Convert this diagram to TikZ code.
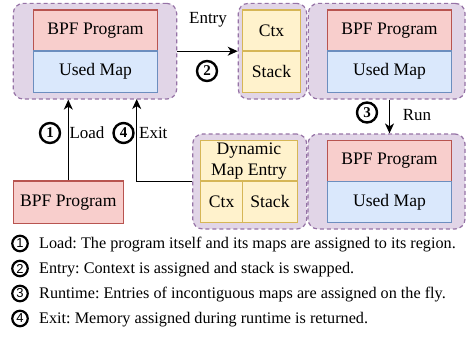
\documentclass[tikz,border=0pt]{standalone}
\usepackage{fontspec}
\setmainfont{Liberation Serif}
\newfontfamily\legsans{Liberation Sans}
\usetikzlibrary{arrows.meta}
\frenchspacing
\definecolor{regfill}{HTML}{E1D5E7}
\definecolor{regdraw}{HTML}{9673A6}
\definecolor{pinkfill}{HTML}{F8CECC}
\definecolor{pinkdraw}{HTML}{B85450}
\definecolor{bluefill}{HTML}{DAE8FC}
\definecolor{bluedraw}{HTML}{6C8EBF}
\definecolor{yelfill}{HTML}{FFF2CC}
\definecolor{yeldraw}{HTML}{D6B656}
\tikzset{
  region/.style={draw=regdraw, fill=regfill, line width=1.2pt, dash pattern=on 4pt off 3pt, rounded corners=10pt, inner sep=0pt},
  cell/.style={line width=1.1pt, inner sep=0pt, font=\fontsize{17.6}{20}\selectfont, align=center},
  pinkcell/.style={cell, draw=pinkdraw, fill=pinkfill},
  bluecell/.style={cell, draw=bluedraw, fill=bluefill},
  yelcell/.style={cell, draw=yeldraw, fill=yelfill},
  lbl/.style={font=\fontsize{17}{20}\selectfont, inner sep=0pt},
  numc/.style={circle, draw, line width=2.4pt, minimum size=20pt, inner sep=0pt, font=\fontsize{15}{15}\selectfont\bfseries},
  legc/.style={circle, draw, line width=2.2pt, minimum size=15.5pt, inner sep=0pt, font=\legsans\fontsize{13}{13}\selectfont},
  legt/.style={anchor=base west, inner sep=0pt, font=\fontsize{16.2}{19}\selectfont},
  arr/.style={line width=1.2pt, -{Stealth[length=10pt,width=9pt,inset=3pt]}},
}
\begin{document}
\begin{tikzpicture}[x=1pt,y=-1pt]
\useasboundingbox (0,0) rectangle (466,343);
% region 1
\node[region, minimum width=163.4pt, minimum height=95.7pt] (b1) at (95,51.2) {};
\node[pinkcell, minimum width=124.4pt, minimum height=41pt] (p1) at (95.5,30.5) {BPF Program};
\node[bluecell, minimum width=124.4pt, minimum height=41.3pt] (u1) at (95.5,71.65) {Used Map};
% region 2
\node[region, minimum width=68.4pt, minimum height=95.7pt] (b2) at (272.5,51.2) {};
\node[yelcell, minimum width=58pt, minimum height=41pt] (ctx2) at (271.5,30.5) {Ctx};
\node[yelcell, minimum width=58pt, minimum height=41.3pt] (stk2) at (271.5,71.65) {Stack};
% region 3
\node[region, minimum width=156.7pt, minimum height=95.7pt] (b3) at (386.7,51.2) {};
\node[pinkcell, minimum width=124.4pt, minimum height=41pt] (p3) at (389.5,30.5) {BPF Program};
\node[bluecell, minimum width=124.4pt, minimum height=41.3pt] (u3) at (389.5,71.65) {Used Map};
% region 4
\node[region, minimum width=114pt, minimum height=95pt] (b4) at (249.7,181.5) {};
\node[yelcell, minimum width=96.6pt, minimum height=40.3pt, font=\fontsize{17.6}{21}\selectfont] (dyn) at (249,160.85) {Dynamic\\Map Entry};
\node[yelcell, minimum width=42pt, minimum height=41.3pt] (ctx4) at (221.7,201.65) {Ctx};
\node[yelcell, minimum width=54.6pt, minimum height=41.3pt] (stk4) at (270,201.65) {Stack};
% region 5
\node[region, minimum width=157pt, minimum height=95pt] (b5) at (386.5,181.5) {};
\node[pinkcell, minimum width=124.4pt, minimum height=40.8pt] (p5) at (389.5,161.1) {BPF Program};
\node[bluecell, minimum width=124.4pt, minimum height=40.8pt] (u5) at (389.5,201.9) {Used Map};
% standalone program
\node[pinkcell, minimum width=110pt, minimum height=42.3pt] (bpf) at (68.3,202.15) {BPF Program};
% connectors
\draw[arr] (b1.east) -- (b2.west);
\draw[arr] (b3.south -| p3) -- (b5.north -| p3);
\draw[arr] (bpf.north) -- (bpf.north |- b1.south);
\coordinate (ex) at (136.7,99.05);
\draw[arr] (b4.west) -| (ex);
% labels
\node[lbl] (lentry) at (208,20) {Entry};
\node[numc] (c2) at (207,71) {2};
\node[numc] (c3) at (367,112.5) {3};
\node[lbl] (lrun) at (417,115) {Run};
\node[numc] (c1) at (50,133) {1};
\node[lbl] (lload) at (87,133) {Load};
\node[numc] (c4) at (123.5,133) {4};
\node[lbl] (lexit) at (153.3,133) {Exit};
% legend
\node[legc] (k1) at (20,243.5) {1};
\node[legt] (t1) at (39,248.8) {Load: The program itself and its maps are assigned to its region.};
\node[legc] (k2) at (20,268.5) {2};
\node[legt] (t2) at (39,273.8) {Entry: Context is assigned and stack is swapped.};
\node[legc] (k3) at (20,293.5) {3};
\node[legt] (t3) at (39,298.8) {Runtime: Entries of incontiguous maps are assigned on the fly.};
\node[legc] (k4) at (20,318.5) {4};
\node[legt] (t4) at (39,323.8) {Exit: Memory assigned during runtime is returned.};
\end{tikzpicture}
\end{document}
